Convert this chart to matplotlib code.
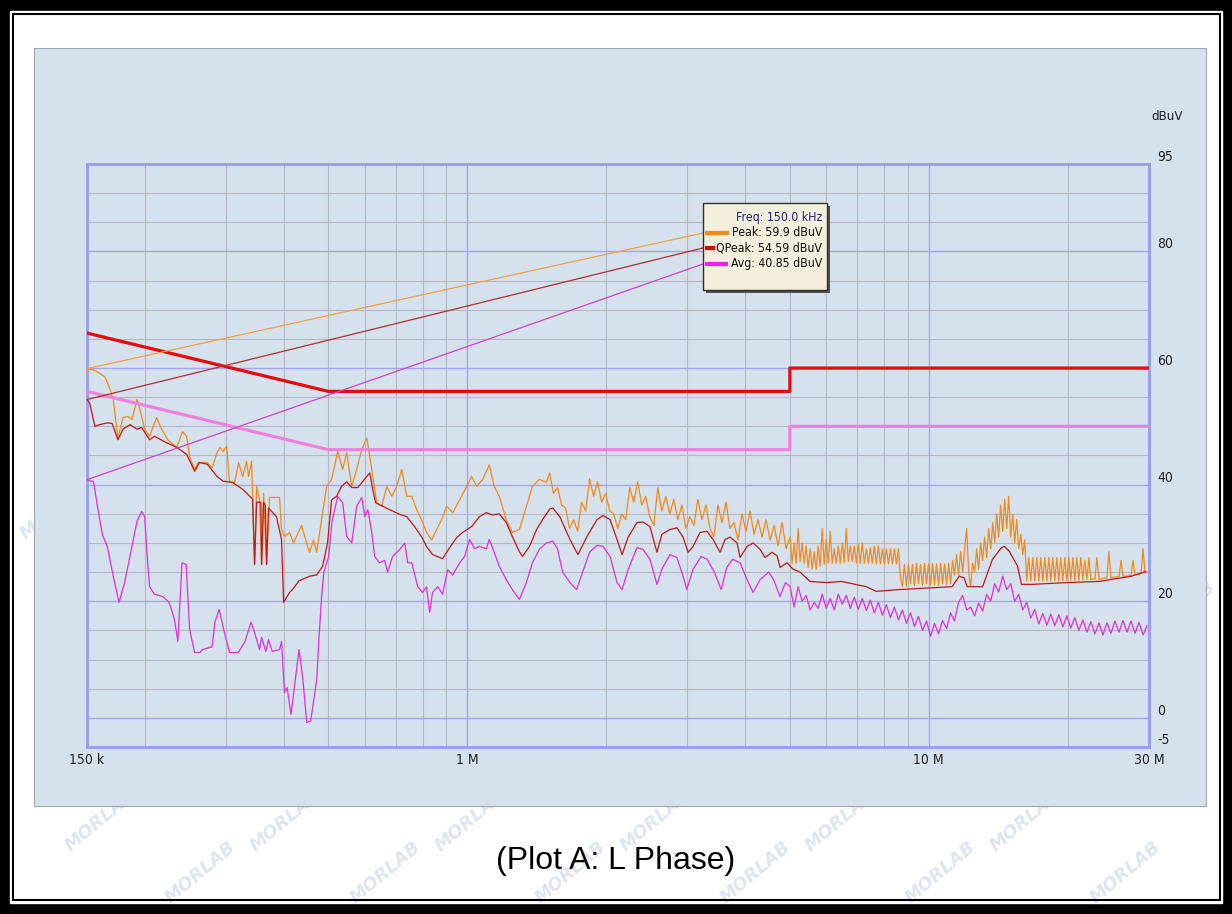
import matplotlib
matplotlib.use("Agg")
import matplotlib.pyplot as plt
from matplotlib.patches import Rectangle, ConnectionPatch
from matplotlib.ticker import FixedLocator, NullFormatter
from matplotlib import font_manager as fm

# ---------------- data (frequency in MHz, level in dBuV) ----------------
peak_freq = [0.150, 0.156, 0.164, 0.168, 0.171, 0.175, 0.1795, 0.184, 0.1877, 0.1925, 0.1954, 0.200,
             0.205, 0.2123, 0.2177, 0.2243, 0.2346, 0.2417, 0.2466, 0.2503, 0.2566, 0.2613, 0.2733, 0.280,
             0.2871, 0.2914, 0.2958, 0.3011, 0.3056, 0.3133, 0.3197, 0.3261, 0.3326, 0.3359, 0.3410, 0.3427,
             0.3461, 0.3496, 0.3548, 0.3584, 0.3620, 0.3674, 0.3729, 0.3920, 0.3959, 0.4018, 0.4120, 0.4203,
             0.4375, 0.4486, 0.4554, 0.4646, 0.4716, 0.4835, 0.4958, 0.5083, 0.5238, 0.5371, 0.5479, 0.5618,
             0.5760, 0.5906, 0.6056, 0.6117, 0.6210, 0.6367, 0.6528, 0.6693, 0.6862, 0.7033, 0.7211, 0.7395,
             0.7583, 0.777, 0.796, 0.816, 0.837, 0.858, 0.880, 0.902, 0.930, 0.963, 0.997, 1.022,
             1.048, 1.080, 1.116, 1.144, 1.173, 1.215, 1.252, 1.297, 1.343, 1.384, 1.433, 1.484,
             1.508, 1.538, 1.569, 1.601, 1.633, 1.666, 1.700, 1.734, 1.769, 1.805, 1.841, 1.878,
             1.916, 1.955, 1.995, 2.035, 2.076, 2.118, 2.161, 2.204, 2.249, 2.294, 2.341, 2.388,
             2.436, 2.485, 2.536, 2.587, 2.639, 2.692, 2.747, 2.802, 2.859, 2.917, 2.976, 3.036,
             3.097, 3.160, 3.224, 3.289, 3.355, 3.423, 3.492, 3.563, 3.635, 3.708, 3.783, 3.860,
             3.938, 4.017, 4.099, 4.181, 4.266, 4.352, 4.440, 4.530, 4.621, 4.715, 4.810, 4.907,
             5.006, 5.056, 5.107, 5.158, 5.211, 5.263, 5.316, 5.369, 5.423, 5.477, 5.533, 5.588,
             5.645, 5.701, 5.759, 5.817, 5.875, 5.934, 5.994, 6.054, 6.115, 6.176, 6.239, 6.301,
             6.365, 6.429, 6.494, 6.559, 6.625, 6.691, 6.759, 6.827, 6.896, 6.965, 7.035, 7.105,
             7.177, 7.249, 7.322, 7.395, 7.470, 7.545, 7.621, 7.697, 7.775, 7.853, 7.932, 8.011,
             8.093, 8.174, 8.256, 8.339, 8.423, 8.507, 8.594, 8.680, 8.767, 8.855, 8.945, 9.034,
             9.125, 9.216, 9.310, 9.403, 9.498, 9.593, 9.690, 9.787, 9.886, 9.985, 10.09, 10.19,
             10.29, 10.39, 10.50, 10.61, 10.71, 10.82, 10.93, 11.04, 11.15, 11.26, 11.37, 11.48,
             11.60, 11.72, 11.84, 11.96, 12.08, 12.20, 12.32, 12.44, 12.57, 12.70, 12.82, 12.95,
             13.08, 13.21, 13.35, 13.48, 13.62, 13.76, 13.89, 14.03, 14.17, 14.31, 14.46, 14.60,
             14.75, 14.90, 15.05, 15.20, 15.35, 15.50, 15.66, 15.82, 15.98, 16.14, 16.30, 16.46,
             16.63, 16.80, 16.97, 17.14, 17.31, 17.48, 17.66, 17.84, 18.02, 18.20, 18.38, 18.56,
             18.75, 18.94, 19.13, 19.32, 19.52, 19.71, 19.91, 20.11, 20.31, 20.52, 20.72, 20.93,
             21.14, 21.35, 21.57, 21.78, 22.01, 22.23, 22.45, 22.67, 22.90, 23.13, 23.37, 23.60,
             23.84, 24.08, 24.32, 24.56, 24.81, 25.06, 25.31, 25.57, 25.83, 26.09, 26.35, 26.61,
             26.88, 27.15, 27.42, 27.70, 27.98, 28.26, 28.54, 28.83, 29.12, 29.41, 29.71]
peak_level = [59.9, 59.6, 58.5, 56.5, 54.6, 48.0, 51.5, 51.7, 51.2, 54.6, 52.9, 49.5,
              48.3, 51.5, 49.5, 47.7, 46.4, 49.1, 48.3, 44.8, 42.6, 43.8, 43.8, 42.9,
              45.5, 46.4, 45.7, 46.6, 40.4, 40.4, 43.8, 41.4, 44.0, 41.4, 44.0, 38.0,
              26.3, 39.7, 37.5, 26.3, 38.5, 26.3, 37.8, 37.8, 32.3, 31.1, 31.8, 30.0,
              33.0, 30.0, 28.4, 30.5, 28.4, 34.0, 39.7, 40.9, 45.7, 42.6, 45.5, 39.7,
              42.6, 46.0, 48.0, 46.0, 42.6, 36.9, 36.3, 39.7, 38.0, 39.7, 42.6, 38.0,
              38.0, 35.7, 34.0, 31.8, 30.5, 32.3, 34.0, 36.3, 35.2, 37.4, 39.7, 41.4,
              39.7, 40.9, 43.4, 39.7, 38.0, 34.0, 31.8, 32.3, 36.3, 39.7, 40.9, 40.4,
              42.0, 38.5, 39.5, 36.5, 36.0, 32.5, 34.0, 32.0, 37.0, 35.5, 41.0, 38.0,
              40.5, 37.0, 38.5, 35.5, 35.0, 32.5, 35.0, 34.0, 39.5, 37.0, 40.5, 36.5,
              38.0, 34.5, 33.0, 39.5, 35.5, 38.0, 35.0, 37.5, 34.0, 36.5, 32.5, 34.5,
              33.0, 37.5, 34.0, 36.5, 32.5, 31.0, 36.5, 33.5, 37.0, 32.5, 33.5, 30.5,
              35.0, 32.0, 35.5, 31.5, 34.0, 31.0, 34.0, 30.5, 33.0, 29.5, 33.5, 29.0,
              31.0, 26.5, 30.0, 26.5, 32.5, 26.8, 30.0, 26.5, 29.5, 25.8, 29.0, 25.5,
              28.5, 25.5, 29.5, 26.0, 32.5, 26.3, 30.5, 26.5, 32.0, 26.5, 29.0, 26.5,
              29.5, 26.5, 30.0, 26.6, 32.5, 26.8, 29.5, 26.8, 29.5, 26.6, 29.8, 26.5,
              30.0, 26.5, 29.0, 26.5, 29.2, 26.5, 29.5, 26.4, 29.5, 26.4, 29.0, 26.4,
              29.0, 26.4, 29.0, 26.4, 29.0, 26.4, 29.0, 24.0, 22.5, 26.3, 22.6, 26.3,
              23.0, 26.3, 22.7, 26.5, 23.0, 26.3, 22.7, 26.5, 23.0, 26.4, 22.8, 26.5,
              22.8, 26.4, 22.8, 26.5, 23.0, 26.4, 22.9, 26.5, 23.0, 27.0, 24.5, 28.0,
              24.5, 28.5, 25.0, 29.0, 32.5, 25.0, 22.5, 26.5, 25.0, 29.0, 25.5, 30.0,
              27.0, 31.0, 27.5, 32.5, 29.0, 33.5, 30.0, 35.0, 31.0, 36.5, 32.0, 37.5,
              32.5, 38.0, 31.0, 35.0, 30.0, 34.0, 29.0, 31.5, 28.0, 30.5, 23.5, 27.5,
              23.5, 27.5, 23.5, 27.5, 23.5, 27.5, 23.5, 27.5, 23.5, 27.5, 23.5, 27.5,
              23.5, 27.5, 23.5, 27.5, 23.5, 27.5, 23.5, 27.5, 23.6, 27.5, 23.6, 27.5,
              23.6, 27.5, 23.6, 27.0, 23.7, 27.5, 23.7, 23.8, 23.8, 27.5, 23.8, 23.8,
              23.9, 24.0, 24.0, 28.5, 24.0, 24.1, 24.1, 24.2, 24.2, 27.0, 24.3, 24.3,
              24.3, 24.4, 24.4, 27.0, 24.5, 24.6, 24.6, 24.7, 29.0, 24.9, 25.0]

qpeak_freq = [0.150, 0.152, 0.156, 0.160, 0.166, 0.170, 0.175, 0.1795, 0.186, 0.1925, 0.197, 0.205,
              0.210, 0.223, 0.2346, 0.2466, 0.2566, 0.263, 0.2733, 0.287, 0.2958, 0.310, 0.3261, 0.338,
              0.3427, 0.3461, 0.3496, 0.357, 0.3584, 0.3620, 0.365, 0.3674, 0.371, 0.386, 0.3959, 0.400,
              0.412, 0.418, 0.432, 0.4554, 0.4716, 0.486, 0.498, 0.5083, 0.521, 0.534, 0.5479, 0.5618,
              0.579, 0.600, 0.615, 0.624, 0.633, 0.656, 0.679, 0.714, 0.7395, 0.769, 0.797, 0.816,
              0.841, 0.884, 0.916, 0.948, 0.977, 1.022, 1.062, 1.100, 1.133, 1.173, 1.215, 1.252,
              1.297, 1.317, 1.364, 1.413, 1.456, 1.508, 1.532, 1.587, 1.669, 1.737, 1.817, 1.910,
              1.968, 2.039, 2.111, 2.165, 2.231, 2.332, 2.403, 2.488, 2.576, 2.641, 2.749, 2.846,
              2.935, 3.009, 3.085, 3.194, 3.308, 3.408, 3.530, 3.619, 3.710, 3.842, 3.900, 4.039,
              4.161, 4.309, 4.418, 4.575, 4.690, 4.761, 4.930, 5.080, 5.26, 5.53, 6.00, 6.47,
              7.32, 7.69, 8.62, 10.17, 11.24, 11.64, 11.93, 12.11, 13.08, 13.74, 14.37, 14.59,
              14.96, 15.57, 15.88, 16.77, 19.88, 23.40, 27.50, 29.50]
qpeak_level = [54.6, 54.0, 50.0, 50.3, 50.6, 50.5, 47.7, 49.5, 50.3, 49.5, 49.8, 47.7,
               48.3, 47.2, 46.4, 45.2, 42.3, 43.8, 43.5, 41.4, 40.6, 40.4, 39.2, 38.0,
               37.5, 26.3, 37.0, 37.0, 26.3, 37.0, 36.5, 26.3, 36.0, 34.5, 30.6, 19.8,
               21.5, 22.0, 23.5, 24.3, 24.5, 26.0, 30.0, 37.4, 38.0, 39.7, 40.5, 39.5,
               39.5, 41.0, 42.0, 39.2, 36.9, 36.3, 35.7, 34.9, 34.5, 32.8, 31.0, 29.4,
               28.0, 27.3, 29.2, 30.9, 31.8, 32.8, 34.5, 35.2, 34.8, 35.0, 33.5, 31.1,
               28.5, 27.7, 29.4, 32.3, 34.0, 35.8, 36.0, 34.5, 30.6, 28.0, 31.1, 34.0,
               34.7, 34.0, 30.6, 28.0, 31.0, 33.5, 33.6, 32.8, 28.4, 31.5, 32.3, 32.6,
               31.0, 28.4, 29.4, 31.8, 32.0, 30.6, 28.4, 30.6, 31.0, 30.0, 27.5, 29.4,
               30.0, 28.9, 27.5, 28.4, 27.8, 25.8, 26.6, 25.5, 25.0, 23.4, 23.2, 23.4,
               22.5, 21.7, 22.0, 22.3, 22.5, 24.3, 24.0, 22.5, 22.5, 27.2, 29.2, 29.4,
               28.5, 26.0, 22.9, 22.9, 23.2, 23.4, 24.3, 25.1]

avg_freq = [0.150, 0.155, 0.158, 0.162, 0.166, 0.171, 0.176, 0.181, 0.1877, 0.1925, 0.197, 0.200,
            0.203, 0.205, 0.210, 0.219, 0.226, 0.232, 0.236, 0.241, 0.246, 0.2503, 0.2566, 0.263,
            0.267, 0.280, 0.284, 0.290, 0.299, 0.3056, 0.319, 0.330, 0.340, 0.3461, 0.3548, 0.3584,
            0.366, 0.371, 0.378, 0.392, 0.3959, 0.4018, 0.407, 0.415, 0.421, 0.432, 0.440, 0.449,
            0.458, 0.472, 0.477, 0.4835, 0.489, 0.501, 0.509, 0.5238, 0.5371, 0.548, 0.562, 0.5760,
            0.5906, 0.600, 0.609, 0.621, 0.630, 0.646, 0.662, 0.672, 0.689, 0.714, 0.732, 0.743,
            0.7583, 0.781, 0.800, 0.816, 0.829, 0.841, 0.863, 0.884, 0.907, 0.930, 0.963, 0.987,
            1.012, 1.037, 1.062, 1.100, 1.116, 1.144, 1.173, 1.215, 1.252, 1.297, 1.343, 1.384,
            1.433, 1.484, 1.532, 1.569, 1.609, 1.669, 1.725, 1.778, 1.841, 1.910, 1.968, 2.039,
            2.111, 2.165, 2.231, 2.332, 2.403, 2.488, 2.576, 2.641, 2.749, 2.846, 2.935, 2.99,
            3.085, 3.214, 3.31, 3.43, 3.55, 3.65, 3.76, 3.90, 4.039, 4.161, 4.309, 4.50,
            4.61, 4.761, 4.89,
            5.006, 5.107, 5.211, 5.316, 5.423, 5.533, 5.645, 5.759, 5.875, 5.994, 6.115, 6.239,
            6.365, 6.494, 6.625, 6.759, 6.896, 7.035, 7.177, 7.322, 7.470, 7.621, 7.775, 7.932,
            8.093, 8.256, 8.423, 8.594, 8.767, 8.945, 9.125, 9.310, 9.498, 9.690, 9.886, 10.09,
            10.29, 10.50, 10.71, 10.93, 11.15, 11.37, 11.60, 11.84, 12.08, 12.32, 12.57, 12.82,
            13.08, 13.35, 13.62, 13.89, 14.17, 14.46, 14.75, 15.05, 15.35, 15.66, 15.98, 16.30,
            16.63, 16.97, 17.31, 17.66, 18.02, 18.38, 18.75, 19.13, 19.52, 19.91, 20.31, 20.72,
            21.14, 21.57, 22.01, 22.45, 22.90, 23.37, 23.84, 24.32, 24.81, 25.31, 25.83, 26.35,
            26.88, 27.42, 27.98, 28.54, 29.12, 29.71]
avg_level = [40.85, 40.5, 36.3, 31.4, 29.4, 24.3, 19.8, 23.2, 29.4, 33.7, 35.4, 34.5,
             26.6, 22.5, 21.2, 20.8, 19.8, 16.9, 13.1, 26.6, 26.3, 15.2, 11.2, 11.2,
             11.7, 12.2, 16.4, 18.6, 14.0, 11.2, 11.2, 13.1, 16.4, 14.6, 11.7, 13.8,
             11.4, 13.4, 11.4, 11.7, 13.1, 4.3, 5.2, 0.6, 4.5, 11.7, 6.9, -0.8,
             -0.5, 6.6, 13.4, 20.8, 25.0, 27.7, 33.5, 38.0, 36.9, 31.1, 30.0, 36.3,
             37.8, 34.5, 35.7, 31.8, 27.7, 26.6, 27.0, 25.0, 27.7, 28.9, 30.0, 26.6,
             26.6, 22.5, 21.5, 22.5, 18.1, 21.5, 22.5, 21.2, 25.4, 24.5, 26.6, 27.7,
             30.6, 29.0, 29.4, 29.0, 30.6, 28.4, 26.0, 23.7, 22.0, 20.3, 23.2, 26.6,
             28.9, 30.0, 30.3, 29.0, 25.0, 23.2, 22.0, 25.0, 28.4, 29.6, 29.4, 27.7,
             23.2, 22.0, 25.4, 29.2, 28.9, 27.2, 22.9, 25.5, 28.0, 27.5, 24.3, 22.0,
             25.5, 27.7, 27.2, 25.0, 22.0, 25.8, 27.2, 26.6, 23.7, 21.5, 23.7, 25.0,
             23.7, 20.8, 23.2,
             22.5, 19.0, 22.5, 20.0, 21.0, 18.5, 19.8, 18.8, 21.2, 18.8, 20.5, 18.5,
             21.2, 19.5, 21.0, 18.8, 20.7, 18.6, 20.5, 18.4, 20.2, 18.0, 19.8, 17.6,
             19.4, 17.2, 19.0, 16.8, 18.5, 16.2, 18.0, 15.7, 17.4, 15.0, 16.6, 14.0,
             16.2, 14.4, 16.7, 15.3, 18.0, 16.6, 19.8, 21.0, 18.5, 19.0, 17.5, 19.7,
             18.3, 21.2, 20.0, 23.0, 21.6, 24.3, 22.0, 23.0, 20.0, 21.2, 18.5, 19.8,
             17.1, 18.6, 16.1, 17.9, 15.9, 17.8, 15.8, 17.7, 15.6, 17.5, 15.4, 17.2,
             15.0, 16.8, 14.7, 16.5, 14.4, 16.3, 14.2, 16.3, 14.5, 16.6, 14.7, 16.7,
             14.7, 16.6, 14.5, 16.4, 14.2, 15.8]

# limit lines
limit_freq = [0.15, 0.5, 5.0, 5.0, 30.0]
qp_limit_level = [66, 56, 56, 60, 60]
avg_limit_level = [56, 46, 46, 50, 50]

# marker read-out
marker_freq = 0.15
marker_values = [59.9, 54.59, 40.85]
legend_title = "Freq: 150.0 kHz"
legend_labels = ["Peak: 59.9 dBuV", "QPeak: 54.59 dBuV", "Avg: 40.85 dBuV"]

x_ticks = [0.15, 1, 10, 30]
x_ticklabels = ["150 k", "1 M", "10 M", "30 M"]
x_minor = [0.2, 0.3, 0.4, 0.5, 0.6, 0.7, 0.8, 0.9, 2, 3, 4, 5, 6, 7, 8, 9, 20]
y_ticks = [-5, 0, 20, 40, 60, 80, 95]
y_minor = list(range(-5, 96, 5))
y_unit = "dBuV"
caption = "(Plot A: L Phase)"
watermark = "MORLAB"


# ---------------- fonts ----------------
def find_narrow_font():
    best, best_rank = None, 99
    for f in fm.fontManager.ttflist:
        n = f.name.lower()
        fn = f.fname.lower()
        st = str(f.stretch).lower()
        narrow = ("narrow" in n or "condensed" in n or "narrow" in fn or "condensed" in fn
                  or st in ("condensed", "semi-condensed", "extra-condensed"))
        if not narrow:
            continue
        if any(k in fn for k in ("bold", "italic", "oblique", "light", "thin", "black", "medium", "semi")):
            continue
        if "liberation" in fn:
            rank = 0
        elif "dejavu" in fn:
            rank = 1
        elif "roboto" in fn:
            rank = 2
        elif "noto" in fn and "cjk" not in fn:
            rank = 3
        else:
            rank = 4
        if rank < best_rank:
            best, best_rank = f.fname, rank
    return best


NARROW_PATH = find_narrow_font()


def nfont(size):
    if NARROW_PATH:
        return fm.FontProperties(fname=NARROW_PATH, size=size)
    return fm.FontProperties(family=["Liberation Sans", "DejaVu Sans"], size=size * 0.82)


# ---------------- styling ----------------
PANEL = "#d5e1ed"
C_PEAK = "#f28a1a"
C_QP = "#c01818"
C_AVG = "#dd30d8"
C_QPLIM = "#e80808"
C_AVLIM = "#f080e0"

W, H = 1232, 914
fig = plt.figure(figsize=(W / 100, H / 100), dpi=100)

bg = fig.add_axes([0, 0, 1, 1], zorder=0)
bg.set_xlim(0, W); bg.set_ylim(H, 0); bg.axis("off")
bg.add_patch(Rectangle((0, 0), W, H, color="black", zorder=0.1))
bg.add_patch(Rectangle((10, 11), 1212, 892, color="white", zorder=0.2))

# faint diagonal watermarks on the white page (the chart panel covers the rest)
for n in range(0, 17):
    wy = 872 - 52 * n
    x0 = 15 + 85 * n
    for k in range(-10, 10):
        wx = x0 + 185 * k
        if 50 < wx < W - 50 and 40 < wy < H - 40:
            bg.text(wx, wy, watermark, rotation=40, ha="center", va="center",
                    fontsize=13, fontweight="bold", fontstyle="italic",
                    color="#d6dfec", alpha=0.8, zorder=0.3)

bg.add_patch(Rectangle((12.5, 14), 1207, 886, fill=False, ec="black", lw=1.5, zorder=0.4))
bg.add_patch(Rectangle((34, 48), 1172, 758, fc=PANEL, ec="#a0a8b0", lw=0.8, zorder=0.5))

L, R, T, B = 87, 1149, 164, 747
ax = fig.add_axes([L / W, 1 - B / H, (R - L) / W, (B - T) / H], zorder=1)
ax.set_facecolor(PANEL)
ax.set_xscale("log")
ax.set_xlim(0.15, 30)
ax.set_ylim(-5, 95)

ax.xaxis.set_major_locator(FixedLocator(x_ticks))
ax.xaxis.set_minor_locator(FixedLocator(x_minor))
ax.set_xticklabels(x_ticklabels)
ax.xaxis.set_minor_formatter(NullFormatter())
ax.yaxis.set_major_locator(FixedLocator(y_ticks))
ax.yaxis.set_minor_locator(FixedLocator(y_minor))
ax.yaxis.tick_right()
ax.set_yticklabels([str(v) for v in y_ticks])
ax.tick_params(which="both", length=0)
ax.tick_params(axis="x", pad=4, labelcolor="#202020")
ax.tick_params(axis="y", pad=6, labelcolor="#202020")
for lab in ax.get_xticklabels() + ax.get_yticklabels():
    lab.set_fontproperties(nfont(10))
for lab in ax.get_yticklabels():
    lab.set_verticalalignment("bottom")
    lab.set_horizontalalignment("left")

ax.grid(which="minor", color="#b4babf", lw=0.8)
ax.grid(which="major", color="#a4a4f2", lw=1.0)
ax.set_axisbelow(True)
for sp in ax.spines.values():
    sp.set_color("#9a9af2"); sp.set_linewidth(2)

ax.plot(peak_freq, peak_level, color=C_PEAK, lw=0.9, zorder=3)
ax.plot(qpeak_freq, qpeak_level, color=C_QP, lw=0.9, zorder=4)
ax.plot(avg_freq, avg_level, color=C_AVG, lw=0.9, zorder=4)
ax.plot(limit_freq, qp_limit_level, color=C_QPLIM, lw=2.3, zorder=5)
ax.plot(limit_freq, avg_limit_level, color=C_AVLIM, lw=2.3, zorder=5)

# overlay in pixel coordinates
top = fig.add_axes([0, 0, 1, 1], zorder=3)
top.set_xlim(0, W); top.set_ylim(H, 0); top.axis("off")
top.patch.set_alpha(0)

top.text(1151, 116, y_unit, ha="left", va="center", fontproperties=nfont(9.5), color="#202020")

# marker read-out box
bx, by, bw, bh = 703, 203, 124, 87
top.add_patch(Rectangle((bx + 3, by + 3), bw, bh, fc="#505050", ec="none"))
top.add_patch(Rectangle((bx, by), bw, bh, fc="#f3efdc", ec="#303030", lw=1.0))
top.text(bx + bw - 5, by + 14, legend_title, ha="right", va="center", fontproperties=nfont(8.8),
         color="#202090")
rows = [by + 30, by + 45, by + 61]
sw_colors = [C_PEAK, "#e00000", "#ee22ee"]
conn_colors = ["#f0a040", "#b03030", "#cc44cc"]
row_texts = []
for val, lab, cc, y in zip(marker_values, legend_labels, conn_colors, rows):
    t = top.text(bx + bw - 5, y, lab, ha="right", va="center", fontproperties=nfont(8.8), color="#101010")
    row_texts.append(t)
    con = ConnectionPatch(xyA=(marker_freq, val), coordsA=ax.transData,
                          xyB=(bx, y), coordsB=top.transData, color=cc, lw=0.9, zorder=2)
    fig.add_artist(con)

fig.canvas.draw()
inv = top.transData.inverted()
for t, c, y in zip(row_texts, sw_colors, rows):
    x_left = inv.transform(t.get_window_extent().get_points())[:, 0].min()
    top.plot([bx + 2, max(bx + 12, x_left - 3)], [y, y], color=c, lw=3, solid_capstyle="butt")

top.text(616, 861, caption, ha="center", va="center", fontsize=23,
         family=["Liberation Sans", "DejaVu Sans"], color="black")

fig.savefig("out.png", dpi=100)
